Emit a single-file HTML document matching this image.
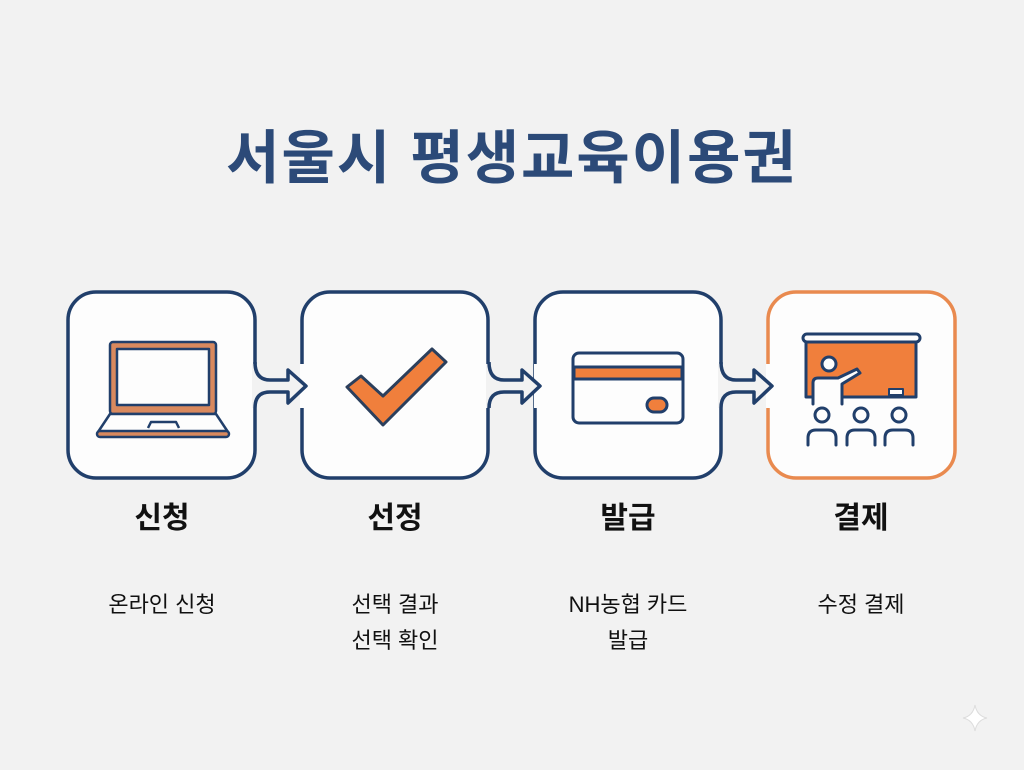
<!DOCTYPE html>
<html><head><meta charset="utf-8"><style>
body{margin:0;background:#f2f2f2;}
svg text{font-family:"Liberation Sans","Noto Sans CJK KR",sans-serif;}
</style></head><body>
<svg width="1024" height="765" viewBox="0 0 1024 765" xmlns="http://www.w3.org/2000/svg">
<rect width="1024" height="765" fill="#f2f2f2"/>
<text x="512" y="178" text-anchor="middle" font-size="58" font-weight="bold" fill="#2c4a78" letter-spacing="2">서울시 평생교육이용권</text>
<g stroke-width="3.5" fill="#fdfdfd">
<rect x="68" y="292" width="187" height="186" rx="28" stroke="#213f6b"/>
<rect x="302" y="292" width="186" height="186" rx="28" stroke="#213f6b"/>
<rect x="535" y="292" width="186" height="186" rx="28" stroke="#213f6b"/>
<rect x="768" y="292" width="187" height="186" rx="28" stroke="#e98a4f"/>
</g>
<g stroke="#213f6b" stroke-width="3.5" stroke-linejoin="round">
<g id="a1">
<rect x="252" y="364" width="8" height="44" stroke="none" fill="#f2f2f2"/>
<rect x="300" y="364" width="5" height="44" stroke="none" fill="#fdfdfd"/>
<path d="M255 362 Q255 380 270 380 L288 380 L288 370 L306 386 L288 403 L288 392 L270 392 Q255 392 255 408" fill="#f2f2f2"/>
</g>
<use href="#a1" x="234"/>
<use href="#a1" x="466"/>
</g>
<g stroke="#213f6b" stroke-width="2.5" stroke-linejoin="round">
<rect x="110" y="342" width="106" height="72" rx="3" fill="#d9895e"/>
<rect x="117" y="349" width="92" height="56" fill="#fdfdfd"/>
<path d="M110 414 L216 414 L228 432 L98 432 Z" fill="#fdfdfd"/>
<path d="M148 428 L151 422 L176 422 L179 428" fill="#fdfdfd"/>
<rect x="97" y="431" width="132" height="6" rx="3" fill="#d9895e"/>
</g>
<path d="M347 387 L361 376 L383 396 L432 349 L446 362 L383 425 Z" fill="#f07f3c" stroke="#2b3f5c" stroke-width="3" stroke-linejoin="round"/>
<g stroke="#213f6b" stroke-width="3">
<rect x="573" y="353" width="110" height="70" rx="6" fill="#fdfdfd"/>
<rect x="574" y="367" width="108" height="12" fill="#f07f3c"/>
<rect x="647" y="398" width="20" height="14" rx="7" fill="#f07f3c"/>
</g>
<g stroke="#213f6b" stroke-width="3" stroke-linejoin="round" stroke-linecap="round">
<rect x="803" y="334" width="117" height="8" rx="4" fill="#fdfdfd"/>
<rect x="806" y="342" width="110" height="55" fill="#f07f3c"/>
<rect x="889" y="389" width="14" height="6" fill="#fdfdfd" stroke-width="2"/>
<circle cx="829" cy="364" r="7" fill="#fdfdfd"/>
<path d="M813 404 L813 383 Q813 378 818 378 L838 378 L857 369 L860 373 L842 384 L842 404" fill="#fdfdfd"/>
<circle cx="822" cy="415" r="7" fill="#fdfdfd"/>
<circle cx="861" cy="415" r="7" fill="#fdfdfd"/>
<circle cx="899" cy="415" r="7" fill="#fdfdfd"/>
<path d="M808 445 L808 438 Q808 430 816 430 L828 430 Q836 430 836 438 L836 445 M847 445 L847 438 Q847 430 855 430 L867 430 Q875 430 875 438 L875 445 M885 445 L885 438 Q885 430 893 430 L905 430 Q913 430 913 438 L913 445" fill="none"/>
</g>
<g font-size="30" font-weight="bold" fill="#111" text-anchor="middle">
<text x="162" y="528">신청</text>
<text x="395" y="528">선정</text>
<text x="628" y="528">발급</text>
<text x="861" y="528">결제</text>
</g>
<g font-size="22" fill="#111" text-anchor="middle">
<text x="162" y="612">온라인 신청</text>
<text x="395" y="612">선택 결과</text>
<text x="395" y="648">선택 확인</text>
<text x="628" y="612">NH농협 카드</text>
<text x="628" y="648">발급</text>
<text x="861" y="612">수정 결제</text>
</g>
<path d="M975 705 Q977 716 987 718 Q977 720 975 731 Q973 720 963 718 Q973 716 975 705Z" fill="#fff" stroke="#ddd"/>
</svg>
</body></html>
